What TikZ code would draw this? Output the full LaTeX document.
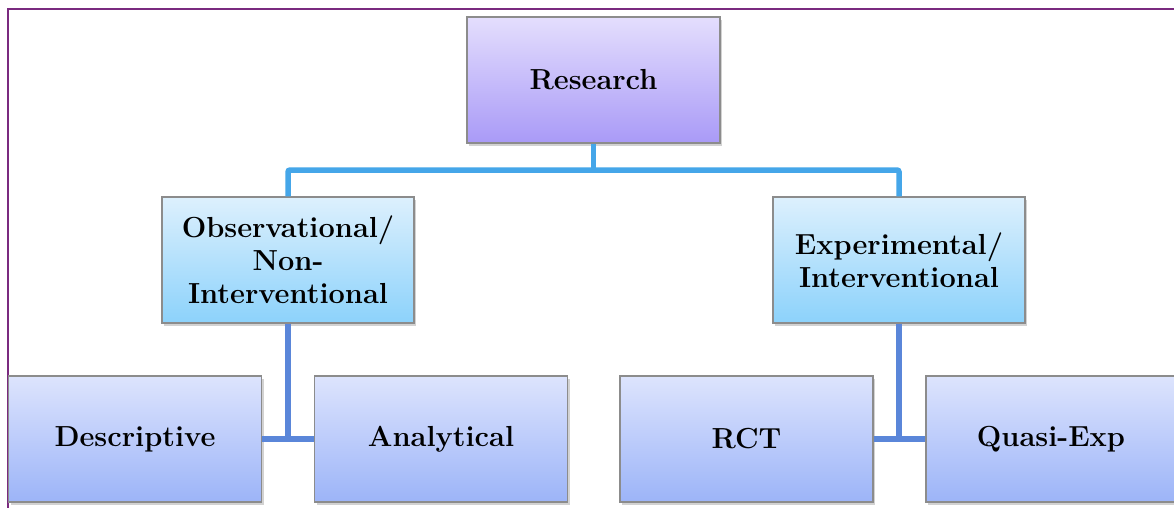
\documentclass[tikz,border=0pt]{standalone}
\usetikzlibrary{shadows}
\definecolor{frameC}{HTML}{7A2A7F}
\definecolor{resTop}{HTML}{E4DEFD}
\definecolor{resBot}{HTML}{A99AF7}
\definecolor{midTop}{HTML}{DDF0FD}
\definecolor{midBot}{HTML}{8CD2FB}
\definecolor{lowTop}{HTML}{DDE4FD}
\definecolor{lowBot}{HTML}{9CB4F8}
\definecolor{connA}{HTML}{45A6E9}
\definecolor{connB}{HTML}{5A86D9}
\definecolor{boxLine}{HTML}{8C8C8C}
\tikzset{
  box/.style={rectangle, draw=boxLine, line width=1.2pt, align=center,
    font=\bfseries\fontsize{29}{33}\selectfont, inner sep=2pt,
    drop shadow={opacity=0.35, shadow xshift=2pt, shadow yshift=-3pt}},
  resbox/.style={box, top color=resTop, bottom color=resBot, minimum width=253pt, minimum height=126pt},
  midbox/.style={box, top color=midTop, bottom color=midBot, minimum width=252pt, minimum height=126pt},
  lowbox/.style={box, top color=lowTop, bottom color=lowBot, minimum width=253pt, minimum height=126pt},
  connupper/.style={draw=connA, line width=5.5pt, rounded corners=2pt},
  connlower/.style={draw=connB, line width=5.5pt},
}
\begin{document}
\begin{tikzpicture}[x=1pt, y=-1pt]
\useasboundingbox (0,0) rectangle (1174,507);
\clip (0,0) rectangle (1174,507);
\fill[white] (0,0) rectangle (1174,507);
\draw[frameC, line width=2.2pt] (8,510) -- (8,9) -- (1180,9);

\node[resbox] (res) at (593.5,80) {Research};
\node[midbox] (obs) at (288,260) {Observational/\\Non-\\Interventional};
\node[midbox] (exp) at (899,260) {Experimental/\\Interventional};
\node[lowbox] (desc) at (135,439) {Descriptive};
\node[lowbox] (anal) at (441,439) {Analytical};
\node[lowbox] (rct) at (746.5,439) {RCT};
\node[lowbox, minimum width=250pt] (quasi) at (1051,439) {Quasi-Exp};

\coordinate (bus) at (593.5,170);
\draw[connupper] (res.south) -- (bus);
\draw[connupper] (obs.north) |- (bus) -| (exp.north);
\draw[connlower] (obs.south) -- (obs.south |- desc.east);
\draw[connlower] (desc.east) -- (anal.west);
\draw[connlower] (exp.south) -- (exp.south |- rct.east);
\draw[connlower] (rct.east) -- (quasi.west);
\end{tikzpicture}
\end{document}
